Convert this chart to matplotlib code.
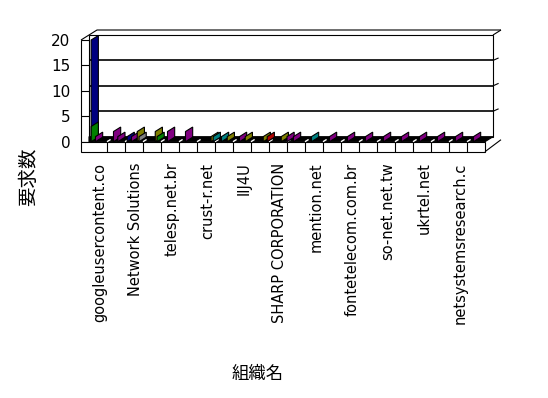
import numpy as np
import matplotlib
matplotlib.use("Agg")
import matplotlib.pyplot as plt
from matplotlib.patches import Polygon

plt.rcParams['font.family'] = ['DejaVu Sans', 'Noto Sans CJK JP']

# ## categories (only every other label is printed on the axis)
n_cat = 22
cat_labels = ['googleusercontent.co', 'Network Solutions', 'telesp.net.br',
              'crust-r.net', 'IIJ4U', 'SHARP CORPORATION', 'mention.net',
              'fontetelecom.com.br', 'so-net.net.tw', 'ukrtel.net',
              'netsystemsresearch.c']

# ## request counts per series (one value per category)
navy_a   = [20, 0, 1, 0, 0, 0, 0, 0, 0, 0, 0, 0, 0, 0, 0, 0, 0, 0, 0, 0, 0, 0]
green_a  = [3, 0, 0, 0, 0, 0, 0, 0, 0, 0, 0, 0, 0, 0, 0, 0, 0, 0, 0, 0, 0, 0]
purple_b = [1, 2, 1, 0, 2, 2, 0, 0, 1, 0, 0, 1, 0, 1, 1, 1, 1, 1, 1, 1, 1, 1]
teal_b   = [0, 0, 0, 0, 0, 0, 0, 1, 0, 0, 0, 0, 1, 0, 0, 0, 0, 0, 0, 0, 0, 0]
purple_c = [0, 1, 0, 0, 0, 0, 0, 0, 0, 0, 0, 0, 0, 0, 0, 0, 0, 0, 0, 0, 0, 0]
olive_c  = [0, 0, 2, 2, 0, 0, 0, 1, 1, 1, 1, 0, 0, 0, 0, 0, 0, 0, 0, 0, 0, 0]
gray_d   = [0, 0, 1, 0, 0, 0, 0, 0, 0, 0, 0, 0, 0, 0, 0, 0, 0, 0, 0, 0, 0, 0]
green_d  = [0, 0, 0, 1, 0, 0, 0, 0, 0, 0, 0, 0, 0, 0, 0, 0, 0, 0, 0, 0, 0, 0]
olive_d  = [0, 0, 0, 0, 0, 0, 1, 0, 0, 0, 0, 0, 0, 0, 0, 0, 0, 0, 0, 0, 0, 0]
teal_e   = [0, 0, 0, 0, 0, 0, 1, 0, 0, 0, 0, 0, 0, 0, 0, 0, 0, 0, 0, 0, 0, 0]
red_e    = [0, 0, 0, 0, 0, 0, 0, 0, 0, 1, 0, 0, 0, 0, 0, 0, 0, 0, 0, 0, 0, 0]
purple_e = [0, 0, 0, 0, 0, 0, 0, 0, 0, 0, 1, 0, 0, 0, 0, 0, 0, 0, 0, 0, 0, 0]

series = [navy_a, green_a, purple_b, teal_b, purple_c, olive_c,
          gray_d, green_d, olive_d, teal_e, red_e, purple_e]
colors = ['#000080', '#008000', '#800080', '#008080', '#800080', '#808000',
          '#808080', '#008000', '#808000', '#008080', '#b00000', '#800080']
slots = [0.12, 0.12, 0.36, 0.36, 0.6, 0.68, 0.78, 0.78, 0.78, 0.9, 0.9, 1.0]

W, H = 548, 398
fig = plt.figure(figsize=(W / 100, H / 100), dpi=100)
ax = fig.add_axes([89 / W, 256.3 / H, 396 / W, 101.7 / H])
ymax = 20
ax.set_xlim(0, n_cat)
ax.set_ylim(0, ymax)
for s in ax.spines.values():
    s.set_visible(False)

# oblique depth vector in data units (8 px right, 5 px up)
px_x = 396 / n_cat
px_y = 101.7 / ymax
DX, DY = 8 / px_x, 5 / px_y
x0 = -8 / px_x          # left wall front edge
FT = 10 / px_y          # floor thickness

def poly(pts, fc, ec='black', lw=0.8, z=1):
    ax.add_patch(Polygon(pts, closed=True, facecolor=fc, edgecolor=ec,
                         linewidth=lw, zorder=z, clip_on=False))

def line(xs, ys, c='black', lw=0.8, z=1):
    ax.plot(xs, ys, color=c, lw=lw, zorder=z, clip_on=False,
            solid_capstyle='butt')

# back wall
poly([(x0 + DX, DY), (n_cat + DX, DY), (n_cat + DX, ymax + DY),
      (x0 + DX, ymax + DY)], 'white')
for v in [5, 10, 15]:
    line([x0 + DX, n_cat + DX], [v + DY, v + DY], lw=1.2)
    line([n_cat + DX, n_cat + 1.7 * DX], [v + DY, v + 1.5 * DY])
# wall top edge
line([x0, x0 + 2 * DX, n_cat + 2 * DX], [ymax, ymax + 2 * DY, ymax + 2 * DY])
line([n_cat + DX, n_cat + 2 * DX], [ymax + DY, ymax + 2 * DY])

# left wall
poly([(x0, 0), (0, 0), (0, ymax), (x0, ymax)], 'white')
for v in [5, 10, 15]:
    line([x0, 0], [v, v])

# floor top and front
poly([(0, 0), (n_cat, 0), (n_cat + DX, DY), (x0 + DX, DY)], 'black', z=2)
poly([(x0, 0), (n_cat, 0), (n_cat, -FT), (x0, -FT)], 'white', z=2)
for k in range(1, n_cat):
    line([k, k], [0, -FT], z=2)
    line([k, k + 0.45 * DX], [0, 0.45 * DY], c='white', lw=1.0, z=2.5)
line([n_cat, n_cat + 2 * DX], [-FT, -FT + 2.4 * DY], z=2)

# bars, drawn left to right so right ones sit in front
bars = []
for si, vals in enumerate(series):
    for ci, v in enumerate(vals):
        if v > 0:
            bars.append((ci + slots[si], si, v))
bars.sort()
f1 = 0.9
for i, (x, si, v) in enumerate(bars):
    poly([(x, 0), (x, v), (x + f1 * DX, v + f1 * DY), (x + f1 * DX, f1 * DY)],
         colors[si], lw=0.8, z=3 + i * 0.01)

ax.set_yticks([0, 5, 10, 15, 20])
ax.set_yticklabels(['0', '5', '10', '15', '20'], fontsize=11)
ax.set_xticks([k + 0.6 for k in range(0, n_cat, 2)])
ax.set_xticklabels(cat_labels, rotation=90, fontsize=10.5)
ax.tick_params(axis='y', length=0, pad=13.5)
ax.tick_params(axis='x', length=0, pad=15)

fig.text(28.5 / W, 1 - 177 / H, '要求数', rotation=90, ha='center',
         va='center', fontsize=14)
fig.text(258 / W, 1 - 374 / H, '組織名', ha='center', va='center', fontsize=12.5)

fig.savefig('out.png', dpi=100)
